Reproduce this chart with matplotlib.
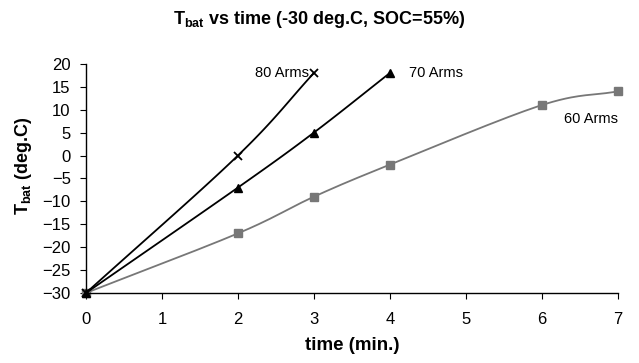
import numpy as np
import matplotlib
matplotlib.use("Agg")
import matplotlib.pyplot as plt

plt.rcParams['font.family'] = ['Liberation Sans', 'DejaVu Sans']
plt.rcParams['mathtext.fontset'] = 'custom'
plt.rcParams['mathtext.rm'] = 'Liberation Sans'
plt.rcParams['mathtext.bf'] = 'Liberation Sans:bold'

t80 = [0, 2, 3]
v80 = [-30, 0, 18]
t70 = [0, 2, 3, 4]
v70 = [-30, -7, 5, 18]
t60 = [0, 2, 3, 4, 6, 7]
v60 = [-30, -17, -9, -2, 11, 14]
x_ticks = [0, 1, 2, 3, 4, 5, 6, 7]
y_ticks = [-30, -25, -20, -15, -10, -5, 0, 5, 10, 15, 20]


def smooth(xs, ys, n=30):
    # Catmull-Rom style smoothing (like spreadsheet smoothed lines)
    xs = np.asarray(xs, float); ys = np.asarray(ys, float)
    px = np.concatenate([[2 * xs[0] - xs[1]], xs, [2 * xs[-1] - xs[-2]]])
    py = np.concatenate([[2 * ys[0] - ys[1]], ys, [2 * ys[-1] - ys[-2]]])
    ox, oy = [], []
    for i in range(1, len(px) - 2):
        p0 = np.array([px[i - 1], py[i - 1]]); p1 = np.array([px[i], py[i]])
        p2 = np.array([px[i + 1], py[i + 1]]); p3 = np.array([px[i + 2], py[i + 2]])
        c1 = p1 + (p2 - p0) / 6.0
        c2 = p2 - (p3 - p1) / 6.0
        s = np.linspace(0, 1, n)[:, None]
        b = (1 - s) ** 3 * p1 + 3 * (1 - s) ** 2 * s * c1 + 3 * (1 - s) * s ** 2 * c2 + s ** 3 * p2
        ox.extend(b[:, 0]); oy.extend(b[:, 1])
    return np.array(ox), np.array(oy)


fig = plt.figure(figsize=(6.39, 3.63), dpi=100)
ax = fig.add_axes([0.1346, 0.193, 0.832, 0.631])

gray = '#777777'
sx, sy = smooth(t60, v60)
ax.plot(sx, sy, color=gray, lw=1.3)
ax.plot(t60, v60, ls='none', marker='s', ms=5.5, color=gray)

sx, sy = smooth(t70, v70)
ax.plot(sx, sy, color='black', lw=1.3)
ax.plot(t70, v70, ls='none', marker='^', ms=6, color='black')

sx, sy = smooth(t80, v80)
ax.plot(sx, sy, color='black', lw=1.3)
ax.plot(t80, v80, ls='none', marker='x', ms=6, mew=1.3, color='black')

ax.set_xlim(0, 7)
ax.set_ylim(-30, 20)
ax.set_xticks(x_ticks)
ax.set_yticks(y_ticks)
ax.tick_params(direction='out', length=4, labelsize=12, pad=7)
ax.tick_params(axis='x', pad=10)
for s in ['top', 'right']:
    ax.spines[s].set_visible(False)
for s in ['left', 'bottom']:
    ax.spines[s].set_linewidth(1.0)
for line in ax.lines:
    line.set_clip_on(False)

ax.text(2.93, 18, '80 Arms', ha='right', va='center', fontsize=10.5)
ax.text(4.25, 18, '70 Arms', ha='left', va='center', fontsize=10.5)
ax.text(6.3, 7.9, '60 Arms', ha='left', va='center', fontsize=10.5, clip_on=False)

ax.set_xlabel('time (min.)', fontsize=13.5, fontweight='bold', labelpad=7)
ax.set_ylabel(r'T$_{\mathbf{bat}}$ (deg.C)', fontsize=13, fontweight='bold')
ax.yaxis.set_label_coords(-0.097, 0.555)
fig.text(0.5, 0.945, r'T$_{\mathbf{bat}}$ vs time (-30 deg.C, SOC=55%)', ha='center', va='center',
         fontsize=13, fontweight='bold')

fig.savefig('out.png', dpi=100)
